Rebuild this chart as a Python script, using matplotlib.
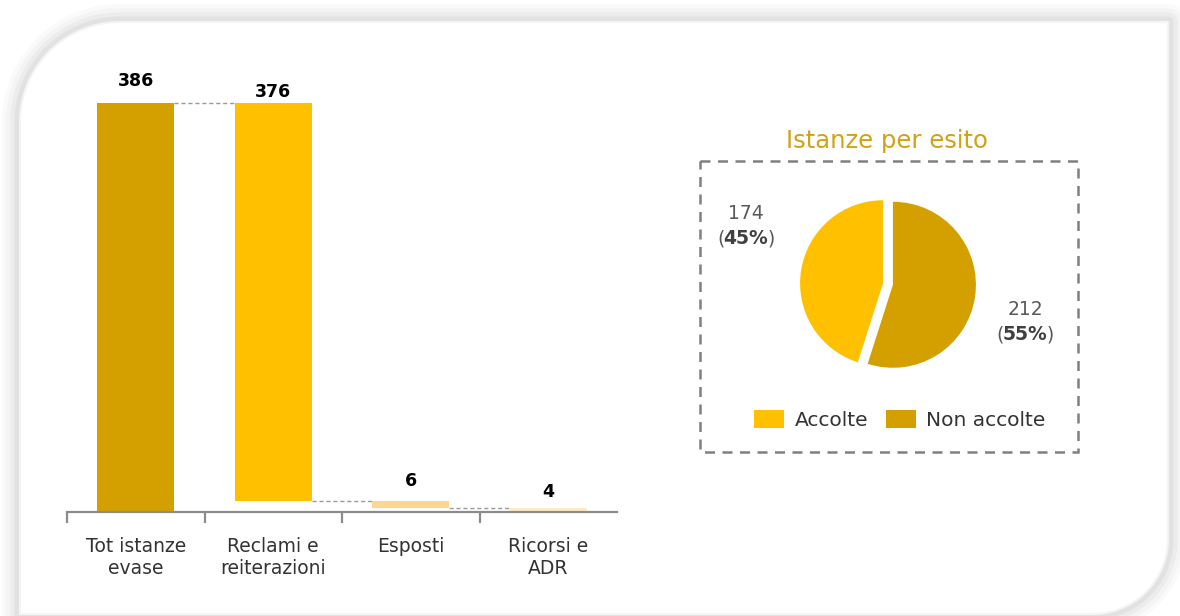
import numpy as np
import matplotlib
matplotlib.use("Agg")
import matplotlib.pyplot as plt
from matplotlib.patches import Polygon, Rectangle
from matplotlib.offsetbox import TextArea, HPacker, VPacker, AnnotationBbox

plt.rcParams['font.family'] = 'DejaVu Sans'

# waterfall data
categories = ["Tot istanze\nevase", "Reclami e\nreiterazioni", "Esposti", "Ricorsi e\nADR"]
values = [386, 376, 6, 4]
bar_colors = ["#D4A000", "#FFC000", "#FFD68C", "#FFEAC4"]
label_pad = [16, 8, 15, 11]  # points above bar top

# pie data
pie_labels = ["Non accolte", "Accolte"]
pie_values = [212, 174]
pie_colors = ["#D4A000", "#FFC000"]

W, H = 1180, 616
fig = plt.figure(figsize=(W / 100, H / 100), dpi=100)


def frac(x0, y0, x1, y1):
    return [x0 / W, 1 - y1 / H, (x1 - x0) / W, (y1 - y0) / H]


# background panel with soft shadow
bg = fig.add_axes([0, 0, 1, 1])
bg.set_xlim(0, W)
bg.set_ylim(H, 0)
bg.axis('off')

left, top, right, bottom = 20, 22, 1168, 614
r1, r2 = 100, 75
t = np.linspace(0, np.pi / 2, 40)
pts = []
pts += list(zip(left + r1 - r1 * np.cos(t), top + r1 - r1 * np.sin(t)))
pts += [(right, top)]
pts += list(zip(right - r2 + r2 * np.cos(t), bottom - r2 + r2 * np.sin(t)))
pts += [(left, bottom)]
for lw, a in [(26, 0.03), (20, 0.04), (14, 0.06), (8, 0.08)]:
    bg.add_patch(Polygon(pts, closed=True, fill=False, ec="#777777", lw=lw, alpha=a, joinstyle='round'))
bg.add_patch(Polygon(pts, closed=True, fc="white", ec="#f4f4f4", lw=1.5))

# dashed box around pie
bg.add_patch(Rectangle((700, 161), 378, 291, fill=False, ec="#808080", lw=1.8, ls=(0, (4, 3))))

# waterfall bars
ax = fig.add_axes(frac(67, 80, 617, 512))
ax.patch.set_alpha(0)
x = np.arange(len(values))
tops, bottoms = [], []
level = values[0]
for i, v in enumerate(values):
    if i == 0:
        tops.append(v)
        bottoms.append(0)
    else:
        tops.append(level)
        bottoms.append(level - v)
        level = level - v
heights = np.array(tops) - np.array(bottoms)
width = 0.56
ax.bar(x, heights, bottom=bottoms, width=width, color=bar_colors, zorder=2)

for i in range(len(values)):
    ax.annotate(str(values[i]), (x[i], tops[i]), xytext=(0, label_pad[i]),
                textcoords='offset points', ha='center', va='center',
                fontsize=12.5, fontweight='bold', color='black')

# connectors
for i in range(len(values) - 1):
    y = bottoms[i] if i > 0 else tops[i]
    ax.plot([x[i] + width / 2, x[i + 1] - width / 2], [y, y], color="#9a9a9a",
            lw=1, ls=(0, (3, 2)), zorder=1)

ax.set_xlim(-0.5, 3.5)
ax.set_ylim(0, 432 / (409 / 386))
for s in ['top', 'right', 'left']:
    ax.spines[s].set_visible(False)
ax.spines['bottom'].set_color("#8c8c8c")
ax.spines['bottom'].set_linewidth(1.6)
ax.set_yticks([])
ax.set_xticks([-0.5, 0.5, 1.5, 2.5])
ax.set_xticklabels([])
ax.tick_params(axis='x', which='major', length=8, width=1.6, color="#8c8c8c")
ax.set_xticks(x, minor=True)
ax.set_xticklabels(categories, minor=True, fontsize=13.5, color="#333333")
ax.tick_params(axis='x', which='minor', length=0, pad=18)

# pie
cx, cy, R, L = 888, 284, 83, 1.25
axp = fig.add_axes(frac(cx - R * L, cy - R * L, cx + R * L, cy + R * L))
wedges, _ = axp.pie(pie_values, colors=pie_colors, startangle=90, counterclock=False,
                    explode=[0.06, 0.06], wedgeprops=dict(linewidth=0))
axp.set_xlim(-L, L)
axp.set_ylim(-L, L)
axp.set_aspect('equal')

fig.text(887 / W, 1 - 141 / H, "Istanze per esito", ha='center', va='center',
         fontsize=17.5, color="#D4A017")

total = sum(pie_values)
label_pos = [(1025, 322), (746, 226)]
for v, (px, py) in zip(pie_values, label_pos):
    pct = f"{round(100 * v / total)}%"
    tp = dict(fontsize=13.5, color="#595959")
    line1 = TextArea(str(v), textprops=tp)
    line2 = HPacker(children=[TextArea("(", textprops=tp),
                              TextArea(pct, textprops=dict(fontsize=13.5, color="#404040", fontweight='bold')),
                              TextArea(")", textprops=tp)], pad=0, sep=-1, align='baseline')
    box = VPacker(children=[line1, line2], align='center', pad=0, sep=5)
    ab = AnnotationBbox(box, (px, H - py), xycoords='figure pixels', frameon=False,
                        box_alignment=(0.5, 0.5))
    bg.add_artist(ab)

fig.legend([wedges[1], wedges[0]], [pie_labels[1], pie_labels[0]], ncol=2,
           loc='center', bbox_to_anchor=(900 / W, 1 - 420 / H), frameon=False,
           fontsize=14.5, handlelength=1.5, handleheight=1.0, columnspacing=0.9,
           handletextpad=0.5, labelcolor="#333333")

fig.savefig("out.png", dpi=100)
